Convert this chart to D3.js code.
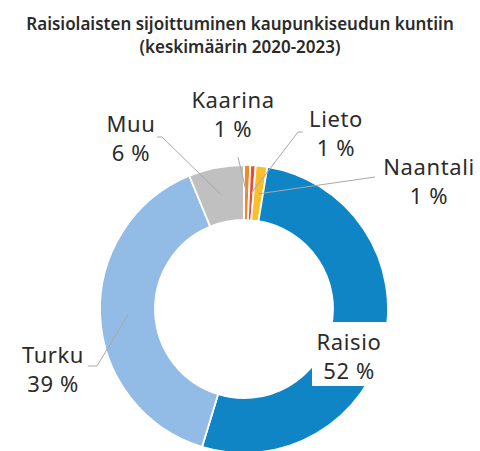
<!DOCTYPE html>
<html>
<head>
<meta charset="utf-8">
<script src="https://cdn.jsdelivr.net/npm/d3@7"></script>
<style>
  body { margin: 0; background: #fff; }
  svg text { font-family: "Noto Sans", "DejaVu Sans", sans-serif; fill: #2b2b2b; }
</style>
</head>
<body>
<svg id="chart" width="480" height="451"></svg>
<script>
// kunnat myötäpäivään ylhäältä alkaen
var municipalities = ["Kaarina", "Lieto", "Naantali", "Raisio", "Turku", "Muu"];
var shares = [0.7, 0.6, 1.3, 52.1, 39.1, 6.2];
var shareLabels = ["1 %", "1 %", "1 %", "52 %", "39 %", "6 %"];
var colors = ["#f08a24", "#e94b3c", "#fbbf2a", "#0f85c5", "#92bce5", "#c0c0c0"];

var titleLines = ["Raisiolaisten sijoittuminen kaupunkiseudun kuntiin", "(keskimäärin 2020-2023)"];

var svg = d3.select("#chart");

svg.selectAll("text.title")
	.data(titleLines)
	.enter().append("text")
		.attr("class", "title")
		.attr("x", 240)
		.attr("y", function(d, i) { return 30 + i * 23; })
		.attr("text-anchor", "middle")
		.style("font-size", "17px")
		.style("font-weight", 600)
		.text(function(d) { return d; });

var cx = 244, cy = 309, rOuter = 144, rInner = 89;

var pie = d3.pie().sort(null).value(function(d) { return d; });
var arc = d3.arc().innerRadius(rInner).outerRadius(rOuter);
var midArc = d3.arc().innerRadius(116).outerRadius(116);

var arcs = pie(shares);

var g = svg.append("g").attr("transform", "translate(" + cx + "," + cy + ")");

g.selectAll("path")
	.data(arcs)
	.enter().append("path")
		.attr("d", arc)
		.attr("fill", function(d, i) { return colors[i]; })
		.attr("stroke", "#fff")
		.attr("stroke-width", 1.8);

// label layout: text centre, first baseline, leader points (absolute)
var layout = {
	Kaarina:  {x: 233, y: 108, lead: [[238, 157]]},
	Lieto:    {x: 336, y: 127, lead: [[298, 132], [303, 132]]},
	Naantali: {x: 429, y: 175, lead: [[375, 177]]},
	Raisio:   {x: 349, y: 350, box: [312, 322, 82, 64]},
	Turku:    {x: 53,  y: 363, lead: [[97, 366], [88, 366]]},
	Muu:      {x: 131, y: 132, lead: [[162, 137], [157, 137]]}
};

var line = d3.line();

arcs.forEach(function(a, i) {
	var name = municipalities[i], L = layout[name];
	if (L.lead) {
		var c = midArc.centroid(a);
		var pts = [[c[0] + cx, c[1] + cy]].concat(L.lead);
		svg.append("path")
			.attr("d", line(pts))
			.attr("fill", "none")
			.attr("stroke", "#a8a8a8")
			.attr("stroke-width", 1);
	}
	if (L.box) {
		svg.append("rect")
			.attr("x", L.box[0]).attr("y", L.box[1])
			.attr("width", L.box[2]).attr("height", L.box[3])
			.attr("fill", "#fff");
	}
	var t = svg.append("text")
		.attr("text-anchor", "middle")
		.style("font-size", "22px")
		.style("letter-spacing", "0.6px");
	t.append("tspan").attr("x", L.x).attr("y", L.y).text(name);
	t.append("tspan").attr("x", L.x).attr("y", L.y + 29).text(shareLabels[i]);
});
</script>
</body>
</html>
